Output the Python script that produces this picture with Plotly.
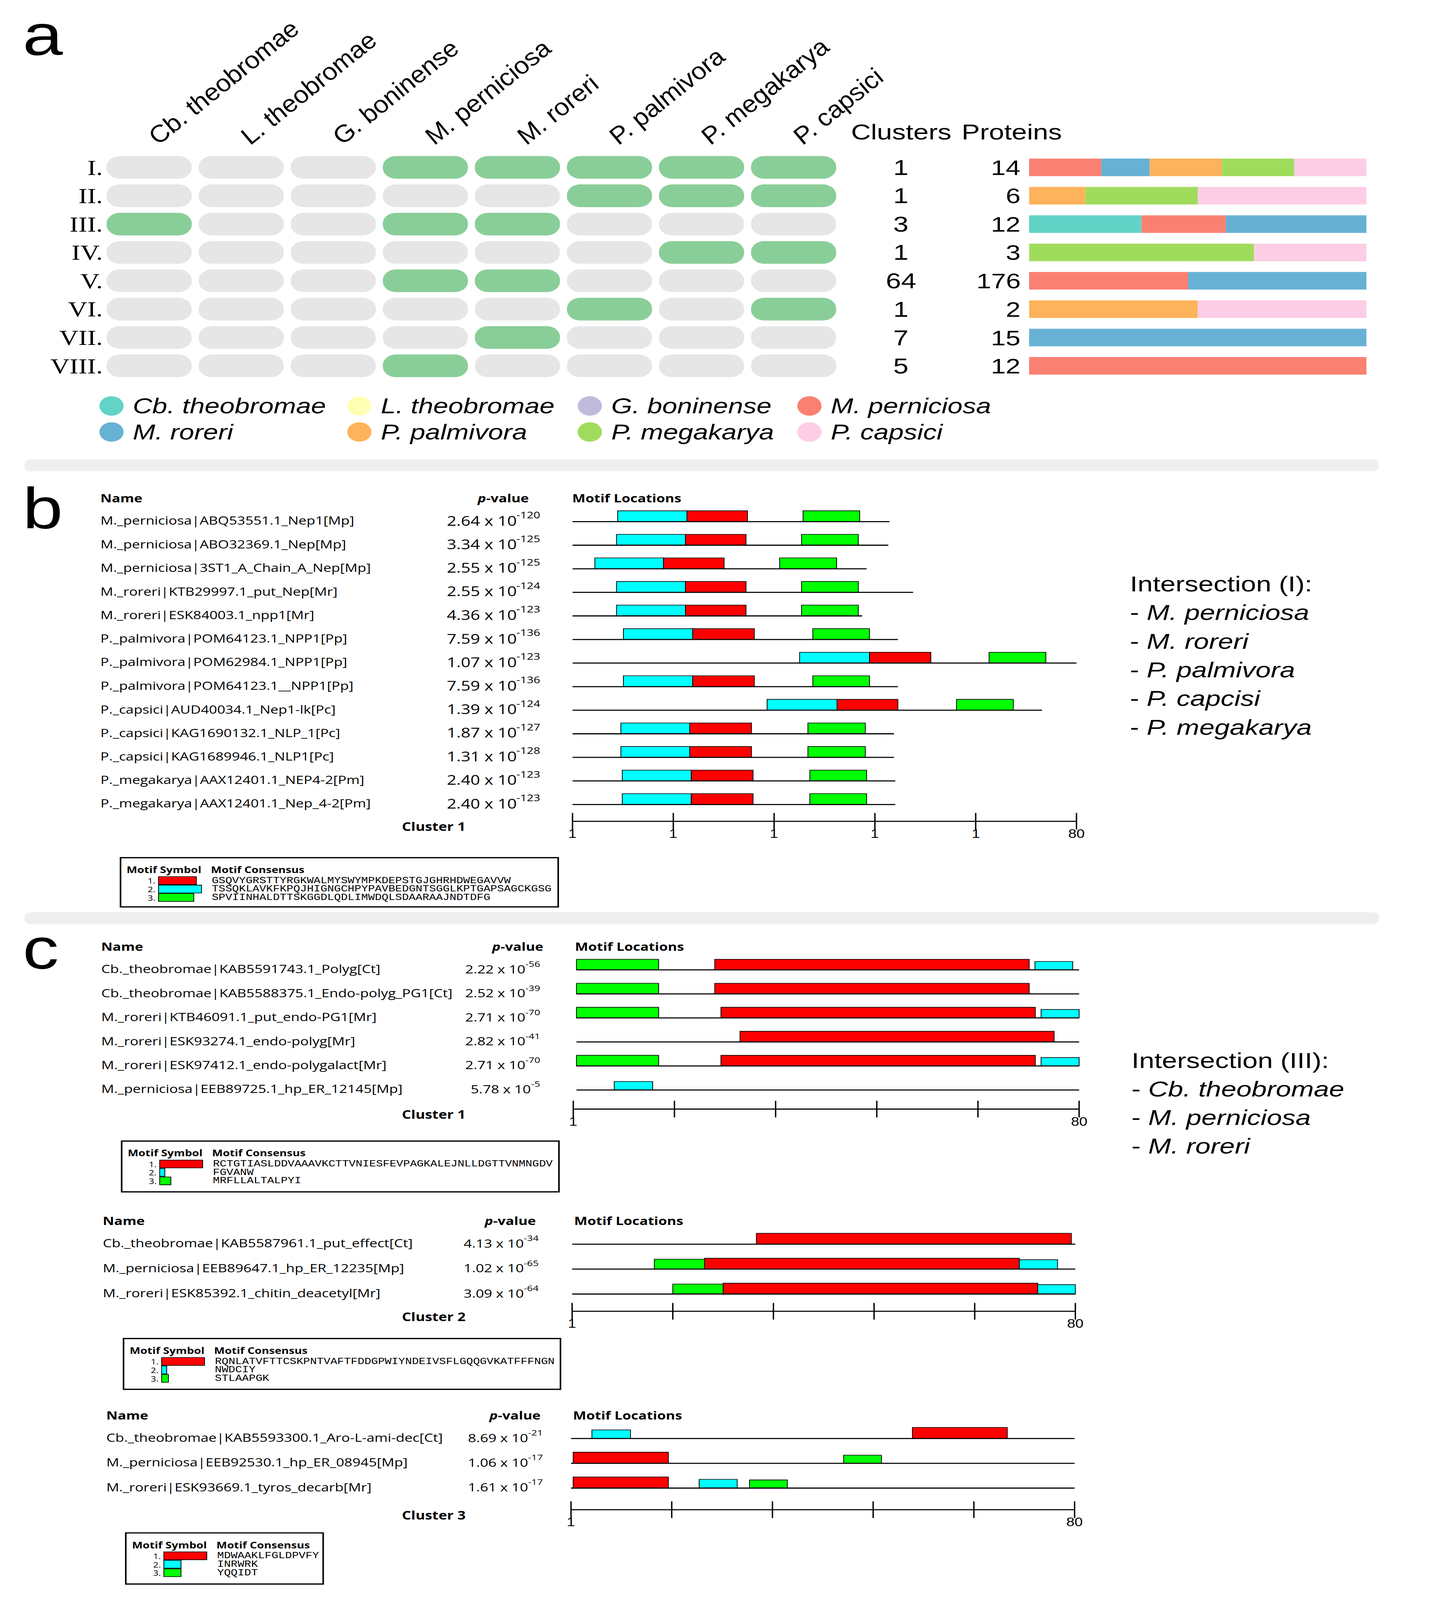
import plotly.graph_objects as go

W, H = 3674, 5104

# ======================= DATA =======================
# ---- panel a ----
SPECIES = ["Cb. theobromae", "L. theobromae", "G. boninense", "M. perniciosa",
           "M. roreri", "P. palmivora", "P. megakarya", "P. capsici"]
SPECIES_COLORS = ["#62D3C6", "#FFFFB3", "#C0BADC", "#FA8072",
                  "#67B1D5", "#FDB25C", "#A0DC5C", "#FDCDE5"]
INTERSECTIONS = ["I.", "II.", "III.", "IV.", "V.", "VI.", "VII.", "VIII."]
PRESENCE = [
    [0, 0, 0, 1, 1, 1, 1, 1],
    [0, 0, 0, 0, 0, 1, 1, 1],
    [1, 0, 0, 1, 1, 0, 0, 0],
    [0, 0, 0, 0, 0, 0, 1, 1],
    [0, 0, 0, 1, 1, 0, 0, 0],
    [0, 0, 0, 0, 0, 1, 0, 1],
    [0, 0, 0, 0, 1, 0, 0, 0],
    [0, 0, 0, 1, 0, 0, 0, 0],
]
CLUSTERS = [1, 1, 3, 1, 64, 1, 7, 5]
PROTEINS = [14, 6, 12, 3, 176, 2, 15, 12]
PROTEIN_COUNTS = [
    [0, 0, 0, 3, 2, 3, 3, 3],
    [0, 0, 0, 0, 0, 1, 2, 3],
    [4, 0, 0, 3, 5, 0, 0, 0],
    [0, 0, 0, 0, 0, 0, 2, 1],
    [0, 0, 0, 83, 93, 0, 0, 0],
    [0, 0, 0, 0, 0, 1, 0, 1],
    [0, 0, 0, 0, 15, 0, 0, 0],
    [0, 0, 0, 12, 0, 0, 0, 0],
]

MOTIF_COLORS = ["#FF0000", "#00FFFF", "#00FF00"]   # motif 1, 2, 3

# ---- panel b (intersection I, cluster 1) ----
B_NAMES = ["M._perniciosa|ABQ53551.1_Nep1[Mp]", "M._perniciosa|ABO32369.1_Nep[Mp]",
           "M._perniciosa|3ST1_A_Chain_A_Nep[Mp]", "M._roreri|KTB29997.1_put_Nep[Mr]",
           "M._roreri|ESK84003.1_npp1[Mr]", "P._palmivora|POM64123.1_NPP1[Pp]",
           "P._palmivora|POM62984.1_NPP1[Pp]", "P._palmivora|POM64123.1__NPP1[Pp]",
           "P._capsici|AUD40034.1_Nep1-lk[Pc]", "P._capsici|KAG1690132.1_NLP_1[Pc]",
           "P._capsici|KAG1689946.1_NLP1[Pc]", "P._megakarya|AAX12401.1_NEP4-2[Pm]",
           "P._megakarya|AAX12401.1_Nep_4-2[Pm]"]
B_P_MANT = ["2.64", "3.34", "2.55", "2.55", "4.36", "7.59", "1.07", "7.59", "1.39",
            "1.87", "1.31", "2.40", "2.40"]
B_P_EXP = [-120, -125, -125, -124, -123, -136, -123, -136, -124, -127, -128, -123, -123]
B_SEQ_START = [1] * 13
B_SEQ_END = [50.7, 50.5, 47.1, 54.4, 46.4, 52.0, 80.0, 52.0, 74.6, 51.4, 51.4, 51.6, 51.6]
B_M2_START = [8.07, 7.9, 4.5, 7.9, 7.9, 8.98, 36.6, 8.98, 31.5, 8.58, 8.58, 8.8, 8.8]
B_M2_END = [18.93, 18.7, 15.25, 18.7, 18.7, 19.83, 47.55, 19.83, 42.46, 19.38, 19.38, 19.6, 19.6]
B_M1_START = [18.93, 18.7, 15.25, 18.7, 18.7, 19.83, 47.55, 19.83, 42.46, 19.38, 19.38, 19.6, 19.6]
B_M1_END = [28.43, 28.2, 24.76, 28.2, 28.2, 29.5, 57.17, 29.5, 52.0, 29.05, 29.05, 29.3, 29.3]
B_M3_START = [37.14, 36.9, 33.47, 36.9, 36.9, 38.67, 66.3, 38.67, 61.2, 37.9, 37.9, 38.2, 38.2]
B_M3_END = [46.02, 45.8, 42.4, 45.8, 45.8, 47.55, 75.2, 47.55, 70.1, 46.9, 46.9, 47.1, 47.1]
B_MOTIF_HEIGHT = [0.46, 0.46, 0.46]
B_CONSENSUS = ["GSQVYGRSTTYRGKWALMYSWYMPKDEPSTGJGHRHDWEGAVVW",
               "TSSQKLAVKFKPQJHIGNGCHPYPAVBEDGNTSGGLKPTGAPSAGCKGSG",
               "SPVIINHALDTTSKGGDLQDLIMWDQLSDAARAAJNDTDFG"]
B_RULER_LABELS = ["1", "1", "1", "1", "1", "80"]
B_INTERSECTION = ["M. perniciosa", "M. roreri", "P. palmivora", "P. capcisi", "P. megakarya"]

# ---- panel c, cluster 1 ----
C1_NAMES = ["Cb._theobromae|KAB5591743.1_Polyg[Ct]",
            "Cb._theobromae|KAB5588375.1_Endo-polyg_PG1[Ct]",
            "M._roreri|KTB46091.1_put_endo-PG1[Mr]", "M._roreri|ESK93274.1_endo-polyg[Mr]",
            "M._roreri|ESK97412.1_endo-polygalact[Mr]",
            "M._perniciosa|EEB89725.1_hp_ER_12145[Mp]"]
C1_P_MANT = ["2.22", "2.52", "2.71", "2.82", "2.71", "5.78"]
C1_P_EXP = [-56, -39, -70, -41, -70, -5]
C1_SEQ_START = [1.5] * 6
C1_SEQ_END = [80, 80, 80, 80, 80, 80]
C1_SITE_ROW = [0, 0, 0, 1, 1, 2, 2, 2, 3, 4, 4, 4, 5]
C1_SITE_MOTIF = [3, 1, 2, 3, 1, 3, 1, 2, 1, 3, 1, 2, 2]
C1_SITE_START = [1.5, 23.1, 73.1, 1.5, 23.1, 1.5, 24.06, 74.06, 27.04, 1.5, 24.06, 74.06, 7.4]
C1_SITE_END = [14.33, 72.2, 79.0, 14.33, 72.2, 14.33, 73.16, 80.0, 76.1, 14.33, 73.16, 80.0, 13.4]
C1_MOTIF_HEIGHT = [0.443, 0.35, 0.443]
C1_CONSENSUS = ["RCTGTIASLDDVAAAVKCTTVNIESFEVPAGKALEJNLLDGTTVNMNGDV", "FGVANW", "MRFLLALTALPYI"]

# ---- panel c, cluster 2 ----
C2_NAMES = ["Cb._theobromae|KAB5587961.1_put_effect[Ct]",
            "M._perniciosa|EEB89647.1_hp_ER_12235[Mp]",
            "M._roreri|ESK85392.1_chitin_deacetyl[Mr]"]
C2_P_MANT = ["4.13", "1.02", "3.09"]
C2_P_EXP = [-34, -65, -64]
C2_SEQ_START = [1, 1, 1]
C2_SEQ_END = [80, 80, 80]
C2_SITE_ROW = [0, 1, 1, 1, 2, 2, 2]
C2_SITE_MOTIF = [1, 3, 1, 2, 3, 1, 2]
C2_SITE_START = [29.93, 13.9, 21.8, 71.2, 16.8, 24.7, 74.1]
C2_SITE_END = [79.37, 21.8, 71.2, 77.2, 24.7, 74.1, 80.0]
C2_MOTIF_HEIGHT = [0.437, 0.378, 0.40]
C2_CONSENSUS = ["RQNLATVFTTCSKPNTVAFTFDDGPWIYNDEIVSFLGQQGVKATFFFNGN", "NWDCIY", "STLAAPGK"]

# ---- panel c, cluster 3 ----
C3_NAMES = ["Cb._theobromae|KAB5593300.1_Aro-L-ami-dec[Ct]",
            "M._perniciosa|EEB92530.1_hp_ER_08945[Mp]",
            "M._roreri|ESK93669.1_tyros_decarb[Mr]"]
C3_P_MANT = ["8.69", "1.06", "1.61"]
C3_P_EXP = [-21, -17, -17]
C3_SEQ_START = [1, 1, 1]
C3_SEQ_END = [80, 80, 80]
C3_SITE_ROW = [0, 0, 1, 1, 2, 2, 2]
C3_SITE_MOTIF = [2, 1, 1, 3, 1, 2, 3]
C3_SITE_START = [4.28, 54.56, 1.34, 43.76, 1.34, 21.1, 29.0]
C3_SITE_END = [10.33, 69.44, 16.27, 49.70, 16.27, 27.07, 34.94]
C3_MOTIF_HEIGHT = [0.45, 0.35, 0.33]
C3_CONSENSUS = ["MDWAAKLFGLDPVFY", "INRWRK", "YQQIDT"]

C_RULER_LABELS = ["1", "", "", "", "", "80"]
C_INTERSECTION = ["Cb. theobromae", "M. perniciosa", "M. roreri"]

RULER_TICKS = [1, 16.8, 32.6, 48.4, 64.2, 80]

# ======================= FIGURE =======================
fig = go.Figure()
ann = []
shapes = []
SANS = "Liberation Sans"
NOTO = "Open Sans"
NAME_SIZE = 36.5
HEAD_SIZE = 36


def xp(px):
    return px / W


def text(x, y, s, size, family=NOTO, xanchor="left", yanchor="middle",
         xref="x3", yref="y3", yshift=0, color="black"):
    ann.append(dict(x=x, y=y, text=s, xref=xref, yref=yref, showarrow=False,
                    xanchor=xanchor, yanchor=yanchor, yshift=yshift,
                    font=dict(family=family, size=size, color=color)))


def open_sans_width(s, size):
    # advance widths of Open Sans digits / hyphen (em units)
    return sum(0.572 if ch.isdigit() else 0.322 for ch in s) * size


# ---------- panel a : intersection grid ----------
gy, gb, ky, kb = [], [], [], []
for r, row in enumerate(PRESENCE):
    for c, v in enumerate(row):
        if v:
            gy.append(r); gb.append(c - 0.4625)
        else:
            ky.append(r); kb.append(c - 0.4625)
fig.add_trace(go.Bar(orientation="h", y=ky, base=kb, x=[0.925] * len(ky), width=0.8,
                     marker=dict(color="#E6E6E6", cornerradius="48%", line_width=0),
                     xaxis="x", yaxis="y"))
fig.add_trace(go.Bar(orientation="h", y=gy, base=gb, x=[0.925] * len(gy), width=0.8,
                     marker=dict(color="#89CE98", cornerradius="48%", line_width=0),
                     xaxis="x", yaxis="y"))

# stacked composition bars
cum = [0.0] * len(PROTEINS)
for s in range(len(SPECIES)):
    ys, xs, bs = [], [], []
    for r in range(len(PROTEINS)):
        cnt = PROTEIN_COUNTS[r][s]
        if cnt:
            f = cnt / PROTEINS[r]
            ys.append(r); xs.append(f); bs.append(cum[r])
            cum[r] += f
    if ys:
        fig.add_trace(go.Bar(orientation="h", y=ys, x=xs, base=bs, width=0.62,
                             marker=dict(color=SPECIES_COLORS[s], line_width=0),
                             xaxis="x2", yaxis="y"))

for r in range(len(CLUSTERS)):
    text(xp(2392), r, str(CLUSTERS[r]), 70, SANS, "center", xref="paper", yref="y")
    text(xp(2712), r, str(PROTEINS[r]), 68, SANS, "right", xref="paper", yref="y")
text(2393, 421, "Clusters", 70, SANS, "center")
text(2686, 421, "Proteins", 70, SANS, "center")

# species legend
LEG_COL_X = [296, 954, 1566, 2149]
LEG_ROW_Y = [1295, 1378]
lx = [LEG_COL_X[i % 4] for i in range(len(SPECIES))]
ly = [LEG_ROW_Y[i // 4] for i in range(len(SPECIES))]
fig.add_trace(go.Scatter(x=lx, y=ly, mode="markers",
                         marker=dict(size=62, color=SPECIES_COLORS, line_width=0),
                         xaxis="x3", yaxis="y3", cliponaxis=False))
for i, sp in enumerate(SPECIES):
    text(lx[i] + 55, ly[i], f"<i>{sp}</i>", 69, SANS)

# panel letters
text(58, 112, "a", 185, SANS)
text(58, 1622, "b", 185, SANS)
text(58, 3026, "c", 185, SANS)


# separators
def rrect(x0, y0, x1, y1, r):
    return (f"M {x0+r},{y0} L {x1-r},{y0} Q {x1},{y0} {x1},{y0+r} L {x1},{y1-r} "
            f"Q {x1},{y1} {x1-r},{y1} L {x0+r},{y1} Q {x0},{y1} {x0},{y1-r} "
            f"L {x0},{y0+r} Q {x0},{y0} {x0+r},{y0} Z")


for (y0, y1) in [(1465, 1503), (2910, 2948)]:
    shapes.append(dict(type="path", path=rrect(65, y0, 3661, y1, 18), xref="x3", yref="y3",
                       fillcolor="#EFEFEF", line_width=0, layer="below"))


# ---------- motif cluster panels ----------
def add_cluster(ax, names, p_mant, p_exp, seq_start, seq_end, rows, motifs, starts, ends,
                heights, consensus, ruler_labels, label, cfg):
    xa, ya = f"x{ax}", f"y{ax}"
    lxs, lys = [], []
    for i in range(len(names)):
        lxs += [seq_start[i], seq_end[i], None]
        lys += [i, i, None]
    fig.add_trace(go.Scatter(x=lxs, y=lys, mode="lines", line=dict(color="black", width=3.5),
                             xaxis=xa, yaxis=ya, cliponaxis=False))
    for m in (1, 2, 3):
        idx = [k for k in range(len(rows)) if motifs[k] == m]
        if not idx:
            continue
        h = heights[m - 1]
        fig.add_trace(go.Bar(orientation="h",
                             y=[rows[k] - h / 2 for k in idx],
                             x=[ends[k] - starts[k] for k in idx],
                             base=[starts[k] for k in idx], width=h,
                             marker=dict(color=MOTIF_COLORS[m - 1],
                                         line=dict(color="black", width=2)),
                             xaxis=xa, yaxis=ya))
    R = cfg["ruler"]
    fig.add_trace(go.Scatter(x=[RULER_TICKS[0], RULER_TICKS[-1]], y=[R, R], mode="lines",
                             line=dict(color="black", width=3.5),
                             xaxis=xa, yaxis=ya, cliponaxis=False))
    fig.add_trace(go.Scatter(x=RULER_TICKS, y=[R] * len(RULER_TICKS), mode="markers",
                             marker=dict(symbol="line-ns", size=38,
                                         line=dict(color="black", width=3.5)),
                             xaxis=xa, yaxis=ya, cliponaxis=False))
    for t, lab in zip(RULER_TICKS, ruler_labels):
        if lab:
            ann.append(dict(x=t, y=R, xref=xa, yref=ya, text=lab, showarrow=False,
                            xanchor="center", yanchor="middle", yshift=-40,
                            font=dict(family=SANS, size=38, color="black")))
    # texts
    ps = cfg["p_size"]
    es = round(ps * 0.7)
    for i, nm in enumerate(names):
        text(xp(cfg["name_x"]), i, nm, NAME_SIZE, NOTO, "left", xref="paper", yref=ya,
             yshift=4)
        ex = str(p_exp[i])
        ew = open_sans_width(ex, es)
        text(xp(cfg["p_x"] - ew - 1), i, f"{p_mant[i]} x 10", ps, NOTO, "right",
             xref="paper", yref=ya, yshift=4)
        text(xp(cfg["p_x"]), i, ex, es, NOTO, "right", xref="paper", yref=ya,
             yshift=4 + 0.42 * ps)
    text(xp(cfg["name_x"]), 0, "<b>Name</b>", HEAD_SIZE, NOTO, xref="paper", yref=ya,
         yshift=75)
    text(xp(cfg["ph_x"]), 0, "<b><i>p</i>-value</b>", HEAD_SIZE, NOTO, "right",
         xref="paper", yref=ya, yshift=75)
    text(xp(cfg["ml_x"]), 0, "<b>Motif Locations</b>", HEAD_SIZE, NOTO, xref="paper",
         yref=ya, yshift=75)
    text(xp(1238), R, f"<b>{label}</b>", 37, NOTO, "right", xref="paper", yref=ya, yshift=-16)
    # motif legend box
    L, T, Rt, B = cfg["box"]
    shapes.append(dict(type="rect", x0=L, x1=Rt, y0=T, y1=B, xref="x3", yref="y3",
                       line=dict(color="black", width=4), fillcolor="rgba(0,0,0,0)"))
    text(L + 14, T + 37, "<b>Motif Symbol</b>", 29, NOTO)
    text(L + 238, T + 37, "<b>Motif Consensus</b>", 29, NOTO)
    maxlen = max(len(c) for c in consensus)
    ry = [T + 73, T + 100, T + 127]
    fig.add_trace(go.Bar(orientation="h", y=ry, base=[L + 101] * 3,
                         x=[len(c) / maxlen * 114 for c in consensus], width=25,
                         marker=dict(color=MOTIF_COLORS, line=dict(color="black", width=2)),
                         xaxis="x3", yaxis="y3"))
    for j, c in enumerate(consensus):
        text(L + 95, ry[j], f"{j+1}.", 24, NOTO, "right")
        text(L + 240, ry[j], c, 29, "Liberation Mono")


def track_axes(n, x1, x80, row0, sp, top, bot):
    k = (x80 - x1) / 79.0
    dom = [(x1 + (0 - 1) * k) / W, (x1 + (81 - 1) * k) / W]
    return ({f"xaxis{n}": dict(domain=dom, range=[0, 81], visible=False, anchor=f"y{n}"),
             f"yaxis{n}": dict(domain=[1 - bot / H, 1 - top / H],
                               range=[(bot - row0) / sp, (top - row0) / sp],
                               visible=False, anchor=f"x{n}")})


axes = {}
B_ROWS, B_MOTIFS, B_STARTS, B_ENDS = [], [], [], []
for i in range(len(B_NAMES)):
    for m, st, en in ((2, B_M2_START, B_M2_END), (1, B_M1_START, B_M1_END),
                      (3, B_M3_START, B_M3_END)):
        B_ROWS.append(i); B_MOTIFS.append(m); B_STARTS.append(st[i]); B_ENDS.append(en[i])

axes.update(track_axes(4, 1520, 2858, 1664, 75.2, 1540, 2700))
add_cluster(4, B_NAMES, B_P_MANT, B_P_EXP, B_SEQ_START, B_SEQ_END, B_ROWS, B_MOTIFS,
            B_STARTS, B_ENDS, B_MOTIF_HEIGHT, B_CONSENSUS, B_RULER_LABELS, "Cluster 1",
            dict(ruler=(2620 - 1664) / 75.2, name_x=264, p_x=1436, ph_x=1406, ml_x=1517,
                 p_size=43, box=(320, 2736, 1482, 2893)))

axes.update(track_axes(5, 1522, 2865, 3094, 76.6, 2990, 3600))
add_cluster(5, C1_NAMES, C1_P_MANT, C1_P_EXP, C1_SEQ_START, C1_SEQ_END, C1_SITE_ROW,
            C1_SITE_MOTIF, C1_SITE_START, C1_SITE_END, C1_MOTIF_HEIGHT, C1_CONSENSUS,
            C_RULER_LABELS, "Cluster 1",
            dict(ruler=(3538 - 3094) / 76.6, name_x=267, p_x=1436, ph_x=1445, ml_x=1524,
                 p_size=37, box=(323, 3640, 1484, 3802)))

axes.update(track_axes(6, 1519, 2855, 3969, 79.5, 3860, 4240))
add_cluster(6, C2_NAMES, C2_P_MANT, C2_P_EXP, C2_SEQ_START, C2_SEQ_END, C2_SITE_ROW,
            C2_SITE_MOTIF, C2_SITE_START, C2_SITE_END, C2_MOTIF_HEIGHT, C2_CONSENSUS,
            C_RULER_LABELS, "Cluster 2",
            dict(ruler=(4183 - 3969) / 79.5, name_x=271, p_x=1432, ph_x=1425, ml_x=1522,
                 p_size=37, box=(328, 4270, 1488, 4432)))

axes.update(track_axes(7, 1516, 2853, 4589, 79.0, 4480, 4880))
add_cluster(7, C3_NAMES, C3_P_MANT, C3_P_EXP, C3_SEQ_START, C3_SEQ_END, C3_SITE_ROW,
            C3_SITE_MOTIF, C3_SITE_START, C3_SITE_END, C3_MOTIF_HEIGHT, C3_CONSENSUS,
            C_RULER_LABELS, "Cluster 3",
            dict(ruler=(4816 - 4589) / 79.0, name_x=280, p_x=1443, ph_x=1437, ml_x=1519,
                 p_size=37, box=(334, 4890, 858, 5053)))

# intersection lists
text(2998, 1863, "Intersection (I):", 70, SANS)
for i, s in enumerate(B_INTERSECTION):
    text(2998, 1863 + 91.3 * (i + 1), f"- <i>{s}</i>", 70, SANS)
text(3002, 3383, "Intersection (III):", 70, SANS)
for i, s in enumerate(C_INTERSECTION):
    text(3002, 3383 + 91 * (i + 1), f"- <i>{s}</i>", 70, SANS)

# ---------- layout ----------
layout = dict(
    width=W, height=H, margin=dict(l=0, r=0, t=0, b=0),
    paper_bgcolor="white", plot_bgcolor="rgba(0,0,0,0)", showlegend=False,
    barmode="overlay", hovermode=False,
    font=dict(family=NOTO, color="black"),
    xaxis=dict(domain=[273.8 / W, 2229.2 / W], range=[-0.5, 7.5], side="top",
               tickmode="array", tickvals=list(range(8)),
               ticktext=[f"<i>{s}</i>" for s in SPECIES], tickangle=-45,
               tickfont=dict(family=SANS, size=72, color="black"),
               showgrid=False, zeroline=False, showline=False, ticks="", anchor="y"),
    yaxis=dict(domain=[1 - 1212.2 / H, 1 - 488.8 / H], range=[7.5, -0.5],
               tickmode="array", tickvals=list(range(8)), ticktext=INTERSECTIONS,
               tickfont=dict(family="Liberation Serif", size=68, color="black"),
               showgrid=False, zeroline=False, showline=False, ticks="", anchor="x"),
    xaxis2=dict(domain=[2732 / W, 3628 / W], range=[0, 1], visible=False, anchor="y"),
    xaxis3=dict(domain=[0, 1], range=[0, W], visible=False, anchor="y3"),
    yaxis3=dict(domain=[0, 1], range=[H, 0], visible=False, anchor="x3"),
    annotations=ann, shapes=shapes,
)
layout.update(axes)
fig.update_layout(**layout)

# Fit the 3674x5104 figure into whatever viewport the browser really has
# (identity when the window is the full 3674x5104).
FIT_JS = """
document.body.style.margin = '0';
document.documentElement.style.margin = '0';
document.body.style.overflow = 'hidden';
var gd = document.getElementById('{plot_id}');
var sx = Math.min(1, window.innerWidth / %d);
var sy = Math.min(1, window.innerHeight / %d);
if (window.innerHeight > 100 && window.innerWidth > 100) {
  gd.style.transformOrigin = '0 0';
  gd.style.transform = 'scale(' + sx + ',' + sy + ')';
}
""" % (W, H)

fig.write_html("out.html", post_script=FIT_JS, config={"displayModeBar": False})
